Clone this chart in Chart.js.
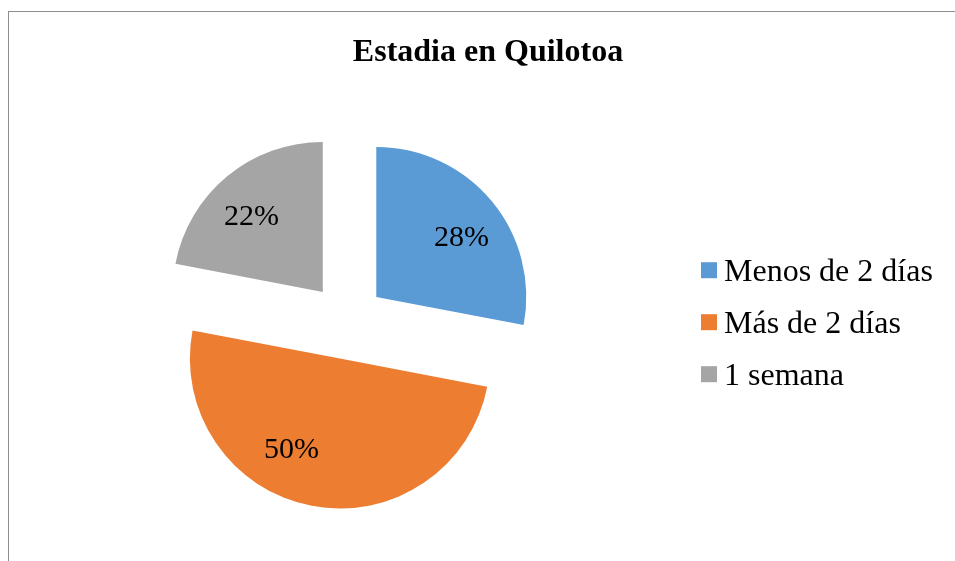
<!DOCTYPE html>
<html lang="es">
<head>
    <meta charset="UTF-8">
    <title>Estadia en Quilotoa</title>
    <script src="https://cdn.jsdelivr.net/npm/chart.js"></script>
    <style>
        body { margin: 0; overflow: hidden; background: #fff; }
        #frame {
            position: absolute;
            left: 8px;
            top: 11px;
            width: 960px;
            height: 560px;
            border-top: 1px solid #8e8e8e;
            border-left: 1px solid #8e8e8e;
        }
    </style>
</head>
<body>
    <div id="frame">
        <canvas id="pieChart" width="958" height="549"></canvas>
    </div>

    <script>
        const categories = ['Menos de 2 días', 'Más de 2 días', '1 semana'];
        const percentages = [28, 50, 22];
        const colors = ['#5B9BD5', '#ED7D31', '#A5A5A5'];

        const FONT = "'Liberation Serif', 'Times New Roman', serif";
        const EXPLODE = 38;
        const LEGEND_WIDTH = 282;
        // Excel's "best fit" moves the labels a little off the slice bisector (degrees)
        const LABEL_TURN = [5, 17, -4];

        // pull each slice out from the centre (Excel style explosion) and label it
        const explodePlugin = {
            id: 'explode',
            beforeDatasetDraw(chart, args) {
                const ctx = chart.ctx;
                args.meta.data.forEach(arc => {
                    const mid = (arc.startAngle + arc.endAngle) / 2;
                    ctx.save();
                    ctx.translate(Math.cos(mid) * EXPLODE, Math.sin(mid) * EXPLODE);
                    arc.draw(ctx);
                    ctx.restore();
                });
                return false;
            },
            afterDatasetsDraw(chart) {
                const ctx = chart.ctx;
                ctx.save();
                ctx.font = '30px ' + FONT;
                ctx.fillStyle = '#000';
                ctx.textAlign = 'center';
                ctx.textBaseline = 'middle';
                chart.getDatasetMeta(0).data.forEach((arc, i) => {
                    const mid = (arc.startAngle + arc.endAngle) / 2;
                    const a = mid + LABEL_TURN[i] * Math.PI / 180;
                    const cx = arc.x + Math.cos(mid) * EXPLODE;
                    const cy = arc.y + Math.sin(mid) * EXPLODE;
                    const d = arc.outerRadius * 0.69;
                    ctx.fillText(percentages[i] + '%', cx + Math.cos(a) * d, cy + Math.sin(a) * d);
                });
                ctx.restore();
            }
        };

        // legend as a layout box on the right, so the title still spans the full width
        const sideLegend = {
            id: 'sideLegend',
            beforeInit(chart) {
                const box = {
                    position: 'right',
                    weight: 10,
                    fullSize: false,
                    options: {},
                    left: 0, top: 0, right: 0, bottom: 0, width: 0, height: 0,
                    isHorizontal() { return false; },
                    update(maxWidth, maxHeight) {
                        this.width = LEGEND_WIDTH;
                        this.height = maxHeight;
                    },
                    draw() {
                        const ctx = chart.ctx;
                        const rowH = 52;
                        const y0 = (this.top + this.bottom) / 2 - rowH * (categories.length - 1) / 2 + 1;
                        ctx.save();
                        ctx.font = '32px ' + FONT;
                        ctx.textBaseline = 'middle';
                        categories.forEach((name, i) => {
                            const y = y0 + i * rowH;
                            ctx.fillStyle = colors[i];
                            ctx.fillRect(this.left + 16, y - 8, 16, 16);
                            ctx.fillStyle = '#000';
                            ctx.fillText(name, this.left + 39, y + 2);
                        });
                        ctx.restore();
                    }
                };
                Chart.layouts.addBox(chart, box);
            }
        };

        const ctx = document.getElementById('pieChart').getContext('2d');
        new Chart(ctx, {
            type: 'pie',
            data: {
                labels: categories,
                datasets: [{
                    data: percentages,
                    backgroundColor: colors,
                    borderWidth: 0,
                    radius: 150
                }]
            },
            options: {
                responsive: false,
                animation: false,
                layout: {
                    padding: { left: 0, right: 0, top: 0, bottom: 11 }
                },
                plugins: {
                    legend: { display: false },
                    tooltip: { enabled: false },
                    title: {
                        display: true,
                        text: 'Estadia en Quilotoa',
                        color: '#000',
                        font: { family: FONT, size: 32, weight: 'bold' },
                        padding: { top: 22, bottom: 20 }
                    }
                }
            },
            plugins: [explodePlugin, sideLegend]
        });
    </script>
</body>
</html>
